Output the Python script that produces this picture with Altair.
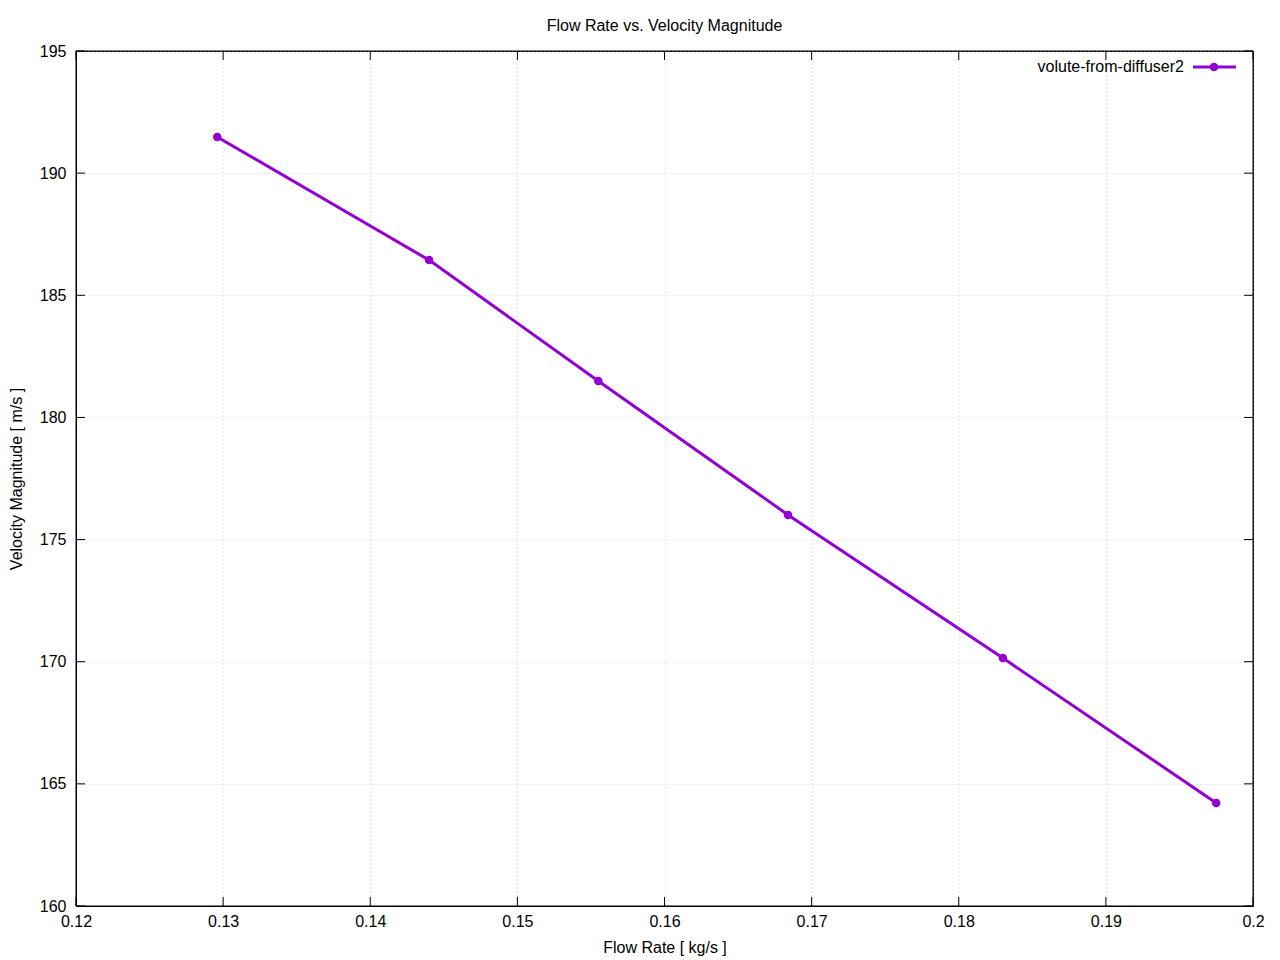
import altair as alt
import pandas as pd

flow_rate = [0.1296, 0.1440, 0.1555, 0.1684, 0.1830, 0.1975]
velocity = [191.48, 186.44, 181.49, 176.01, 170.15, 164.22]
series_name = "volute-from-diffuser2"
x_ticks = [0.12, 0.13, 0.14, 0.15, 0.16, 0.17, 0.18, 0.19, 0.2]
y_ticks = [160, 165, 170, 175, 180, 185, 190, 195]

W, H = 1177, 855
COLOR = "#9400D3"
FONT = "Liberation Sans"
FS = 16

df = pd.DataFrame({"x": flow_rate, "y": velocity})
xt = pd.DataFrame({"x": x_ticks})
yt = pd.DataFrame({"y": y_ticks})

xscale = alt.Scale(domain=[0.12, 0.2], nice=False, zero=False)
yscale = alt.Scale(domain=[160, 195], nice=False, zero=False)

base = alt.Chart(df)

line = base.mark_line(color=COLOR, strokeWidth=3, clip=True).encode(
    x=alt.X("x:Q", scale=xscale,
            axis=alt.Axis(title="Flow Rate [ kg/s ]", values=x_ticks, format="~g",
                          tickSize=0, labelPadding=7, titlePadding=10, labelFlush=False,
                          grid=True, gridColor="#d0d0d0", gridDash=[1, 3], gridWidth=1,
                          domainColor="black", labelFont=FONT, titleFont=FONT,
                          labelFontSize=FS, titleFontSize=FS, titleFontWeight="normal",
                          labelColor="black", titleColor="black")),
    y=alt.Y("y:Q", scale=yscale,
            axis=alt.Axis(title="Velocity Magnitude [ m/s ]", values=y_ticks,
                          tickSize=0, labelPadding=10, titlePadding=15, labelFlush=False,
                          grid=True, gridColor="#d0d0d0", gridDash=[1, 3], gridWidth=1,
                          domainColor="black", labelFont=FONT, titleFont=FONT,
                          labelFontSize=FS, titleFontSize=FS, titleFontWeight="normal",
                          labelColor="black", titleColor="black")),
)
pts = base.mark_point(color=COLOR, filled=True, size=72, opacity=1).encode(
    x=alt.X("x:Q", scale=xscale), y=alt.Y("y:Q", scale=yscale))

tick_len = 9
xb = alt.Chart(xt).mark_rule(color="black", strokeWidth=1).encode(
    x=alt.X("x:Q", scale=xscale), y=alt.value(H), y2=alt.value(H - tick_len))
xtp = alt.Chart(xt).mark_rule(color="black", strokeWidth=1).encode(
    x=alt.X("x:Q", scale=xscale), y=alt.value(0), y2=alt.value(tick_len))
yl = alt.Chart(yt).mark_rule(color="black", strokeWidth=1).encode(
    y=alt.Y("y:Q", scale=yscale), x=alt.value(0), x2=alt.value(tick_len))
yr = alt.Chart(yt).mark_rule(color="black", strokeWidth=1).encode(
    y=alt.Y("y:Q", scale=yscale), x=alt.value(W), x2=alt.value(W - tick_len))

leg = pd.DataFrame({"name": [series_name]})
frame = alt.Chart(leg).mark_rect(fill=None, stroke="black", strokeWidth=1).encode(
    x=alt.value(0), x2=alt.value(W), y=alt.value(0), y2=alt.value(H))
leg_text = alt.Chart(leg).mark_text(align="right", baseline="middle", font=FONT,
                                    fontSize=FS, color="black").encode(
    text="name:N", x=alt.value(1108), y=alt.value(16))
leg_line = alt.Chart(leg).mark_rule(color=COLOR, strokeWidth=3).encode(
    x=alt.value(1117), x2=alt.value(1160), y=alt.value(16))
leg_pt = alt.Chart(leg).mark_point(color=COLOR, filled=True, size=72, opacity=1).encode(
    x=alt.value(1138), y=alt.value(16))

chart = alt.layer(frame, line, pts, xb, xtp, yl, yr, leg_line, leg_pt, leg_text).properties(
    width=W, height=H,
    title=alt.TitleParams("Flow Rate vs. Velocity Magnitude", font=FONT, fontSize=FS,
                          fontWeight="normal", color="black", anchor="middle", offset=9),
    autosize=alt.AutoSizeParams(type="none"),
    padding={"left": 68, "top": 43, "right": 19, "bottom": 60},
).configure(background="white").configure_view(stroke="black", strokeWidth=1)

chart.save("out.html", embed_options={"renderer": "svg", "actions": False})
